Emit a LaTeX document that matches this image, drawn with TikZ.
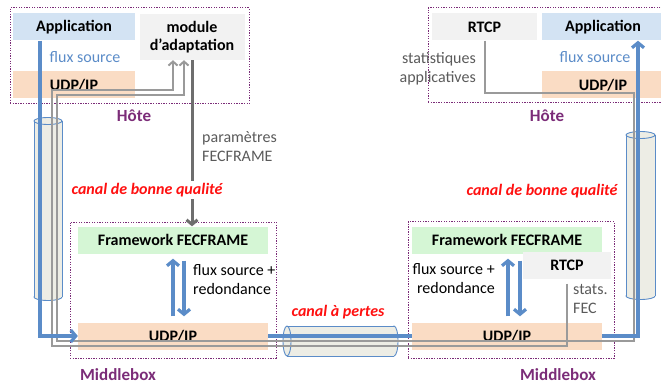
\documentclass[tikz,border=0pt]{standalone}
\usepackage{fontspec}
\setmainfont{Carlito}
\usetikzlibrary{arrows.meta}

\definecolor{flowblue}{HTML}{5B8CC8}
\definecolor{appfill}{HTML}{D3E3F3}
\definecolor{udpfill}{HTML}{FADCC4}
\definecolor{fecfill}{HTML}{D5F6D5}
\definecolor{boxgrey}{HTML}{F2F2F2}
\definecolor{hostpurple}{HTML}{7B2C78}
\definecolor{statgrey}{HTML}{9A9A9A}
\definecolor{paramgrey}{HTML}{6E6E6E}
\definecolor{pipefill}{HTML}{EDEDE5}
\definecolor{lossred}{HTML}{FF1010}
\definecolor{labelgrey}{HTML}{5A5A5A}

\begin{document}
\begin{tikzpicture}[x=1pt, y=-1pt,
  every node/.style={font=\fontsize{16}{19}\selectfont},
  hostbox/.style={draw=hostpurple, line width=1pt, dash pattern=on 1.3pt off 1.3pt, inner sep=0pt},
  layer/.style={inner sep=0pt, minimum height=27pt, font=\fontsize{16}{18}\selectfont\bfseries},
  appbox/.style={layer, fill=appfill, minimum width=122pt},
  udpbox/.style={layer, fill=udpfill},
  fecbox/.style={layer, fill=fecfill, minimum width=190pt},
  greybox/.style={layer, fill=boxgrey},
  title/.style={text=hostpurple, font=\fontsize{17}{19}\selectfont\bfseries},
  canal/.style={text=lossred, font=\fontsize{16}{19}\selectfont\bfseries\itshape},
  note/.style={inner sep=0pt, align=left},
  pipe/.style={fill=pipefill, draw=flowblue, line width=0.9pt},
  flowline/.style={draw=flowblue, line width=3.2pt},
  flow/.style={flowline, -{Straight Barb[length=5pt,width=12pt]}},
  stat/.style={draw=statgrey, line width=2pt, -{Straight Barb[length=4pt,width=9pt]}},
  param/.style={draw=paramgrey, line width=3pt, -{Straight Barb[length=4.5pt,width=11pt]}}
]
\clip (0,0) rectangle (661,385);

% hosts and middleboxes
\node[hostbox, minimum width=239pt, minimum height=96pt] (hostL) at (129.5,56) {};
\node[hostbox, minimum width=252pt, minimum height=95pt] (hostR) at (554,55.5) {};
\node[hostbox, minimum width=206pt, minimum height=136pt] (mboxL) at (173,290) {};
\node[hostbox, minimum width=206pt, minimum height=137pt] (mboxR) at (511,290) {};

% left host
\node[appbox] (appL) at (74,27) {Application};
\node[udpbox, minimum width=122pt] (udpL) at (74,85) {UDP/IP};
\node[greybox, minimum width=105pt, minimum height=46pt, align=center] (modL) at (192,37) {module\\d’adaptation};
\node[text=flowblue] (fluxL) at (85,57) {flux source};
\node[title] (hoteL) at (134,116) {Hôte};

% right host
\node[greybox, minimum width=105pt] (rtcpH) at (484.5,27) {RTCP};
\node[appbox] (appR) at (603,27) {Application};
\node[udpbox, minimum width=122pt] (udpR) at (603,85) {UDP/IP};
\node[text=flowblue] (fluxR) at (595,57) {flux source};
\node[note, text=labelgrey, align=right, anchor=east] (statsApp) at (476,69) {statistiques\\applicatives};
\node[title] (hoteR) at (547,116) {Hôte};

% middleboxes
\node[fecbox] (fecL) at (173,240) {Framework FECFRAME};
\node[udpbox, minimum width=190pt] (udpM) at (173,336) {UDP/IP};
\node[title] (mbL) at (118,375) {Middlebox};
\node[fecbox] (fecR) at (507,240) {Framework FECFRAME};
\node[greybox, minimum width=88pt] (rtcpM) at (567,265) {RTCP};
\node[udpbox, minimum width=190pt] (udpR2) at (507,336) {UDP/IP};
\node[title] (mbR) at (558,375) {Middlebox};

% pipes
\filldraw[pipe] (48,297) ellipse (14 and 3.5);
\fill[pipefill] (34,121) rectangle (62,297);
\draw[pipe] (34,121) -- (34,297) (62,121) -- (62,297);
\filldraw[pipe] (48,121) ellipse (14 and 3.5);

\filldraw[pipe] (640.5,296) ellipse (14.5 and 3.5);
\fill[pipefill] (626,135) rectangle (655,296);
\draw[pipe] (626,135) -- (626,296) (655,135) -- (655,296);
\filldraw[pipe] (640.5,135) ellipse (14.5 and 3.5);

\filldraw[pipe] (394,341) ellipse (4 and 15);
\fill[pipefill] (287,326) rectangle (394,356);
\draw[pipe] (287,326) -- (394,326) (287,356) -- (394,356);
\filldraw[pipe] (287,341) ellipse (4 and 15);

% statistics back to the sender
\coordinate (fa) at (52,346);
\coordinate (fb) at (52,90);
\coordinate (fc) at (173,90);
\draw[stat] ([yshift=-5pt]rtcpM.south) -- (rtcpM.south |- fa) -- (fa) -- (fb) -- (fc) -- (modL.south -| fc);
\coordinate (sa) at (634,93);
\coordinate (sb) at (634,341);
\coordinate (sc) at (57,341);
\coordinate (sd) at (57,95);
\coordinate (se) at (184,95);
\draw[stat] (rtcpH.south) -- (rtcpH.south |- sa) -- (sa) -- (sb) -- (sc) -- (sd) -- (se) -- (modL.south -| se);

% source flow
\coordinate (bl) at (40,336);
\coordinate (br) at (638,336);
\draw[flow] (appL.south -| bl) -- (bl) -- (udpM.west);
\draw[flowline] (udpM.east) -- (udpR2.west);
\draw[flow] (udpR2.east) -- (br) -- (appR.south -| br);
\draw[flow, shorten <=6pt, shorten >=5pt] (udpM.north) -- (fecL.south);
\draw[flow, shorten <=7pt, shorten >=6pt] ([xshift=11pt]fecL.south) -- ([xshift=11pt]udpM.north);
\draw[flow, shorten <=6pt, shorten >=5pt] ([xshift=1pt]udpR2.north) -- ([xshift=1pt]fecR.south);
\draw[flow, shorten <=7pt, shorten >=6pt] ([xshift=13pt]fecR.south) -- ([xshift=13pt]udpR2.north);

% FECFRAME parameters
\draw[param] (modL.south) -- (fecL.north -| modL.south);

% labels
\node[note, text=labelgrey, anchor=west] (paramLbl) at (202,147) {paramètres\\FECFRAME};
\node[canal, fill=white, inner sep=2pt] (canalL) at (147,190) {canal de bonne qualité};
\node[canal] (canalR) at (542,191) {canal de bonne qualité};
\node[canal] (canalM) at (338,312) {canal à pertes};
\node[note, anchor=west] (fluxMl) at (193,280) {flux source +\\redondance};
\node[note, align=right, anchor=east] (fluxMr) at (495,279) {flux source +\\redondance};
\node[note, text=labelgrey, anchor=west] (statsFec) at (573,299) {stats.\\FEC};
\end{tikzpicture}
\end{document}
